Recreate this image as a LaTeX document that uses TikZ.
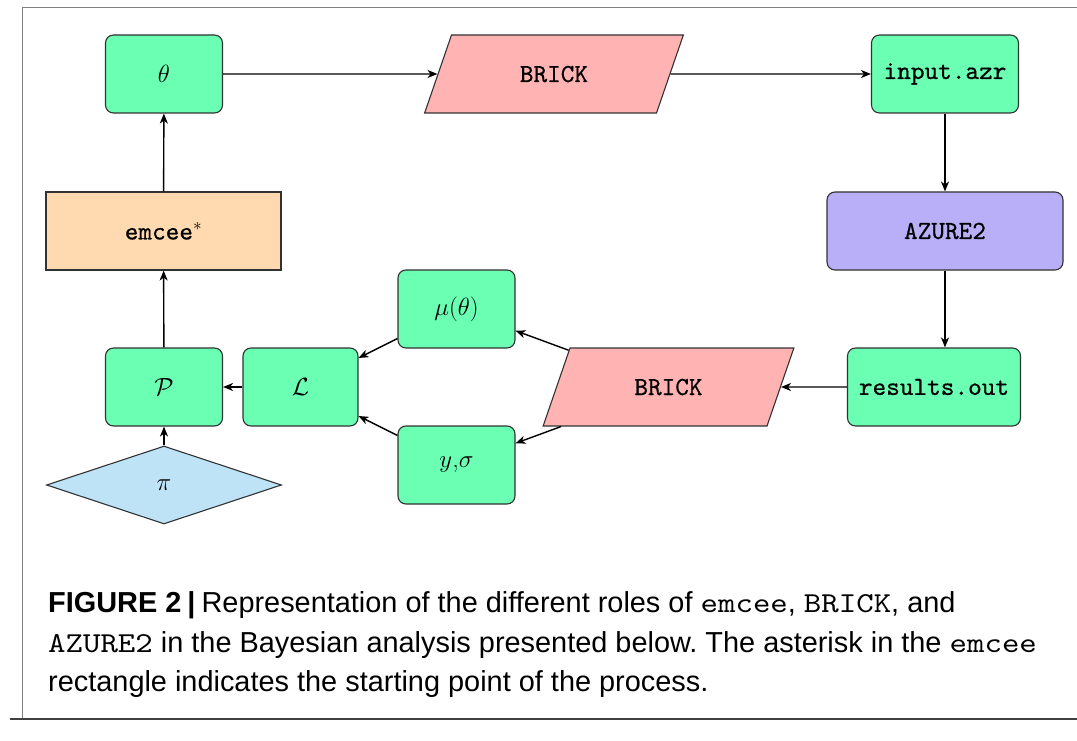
\documentclass[tikz,border=0pt]{standalone}
\usepackage{fontspec}
\usetikzlibrary{shapes.geometric,arrows.meta}
\newfontfamily\capfont{Liberation Sans}
\newfontfamily\capmono[Extension=.otf, FakeStretch=1.15]{lmmono10-regular}
\newfontfamily\ttb[Extension=.otf, FakeBold=0.6]{lmmono10-regular}
\definecolor{mint}{RGB}{106,255,178}
\definecolor{peach}{RGB}{255,218,176}
\definecolor{pinkb}{RGB}{255,179,179}
\definecolor{lilac}{RGB}{185,174,248}
\definecolor{skyb}{RGB}{190,227,247}
\definecolor{edge}{RGB}{50,50,50}
\frenchspacing
\tikzset{
  base/.style={draw=edge, line width=1.1pt, inner sep=0pt, font=\fontsize{26}{31}\selectfont, text=black},
  gbox/.style={base, fill=mint, rounded corners=8pt, minimum height=78pt},
  para/.style={base, fill=pinkb, trapezium, trapezium left angle=71, trapezium right angle=109,
    text height=16pt, text depth=0pt, inner ysep=31pt, inner xsep=0pt, align=center},
  conn/.style={line width=1.4pt, -{Stealth[length=10pt,width=8pt,inset=3pt]}},
  captxt/.style={anchor=base west, inner sep=0pt, font=\capfont\fontsize{28.9}{34}\selectfont},
}
\begin{document}
\begin{tikzpicture}[x=1pt,y=-1pt]
\useasboundingbox (0,0) rectangle (1077,741);
% frame
\draw[gray, line width=1pt] (1077,8) -- (22,8) -- (22,719);
\draw[black!75, line width=2pt] (10,719) -- (1077,719);
% nodes
\node[gbox, minimum width=117pt] (theta) at (164,74) {$\theta$};
\node[base, fill=peach, minimum width=235pt, minimum height=78pt] (emcee) at (163.5,231) {\ttb emcee$^{*}$};
\node[para, text width=205pt] (brickA) at (554,74) {\ttb BRICK};
\node[gbox, minimum width=147pt] (input) at (945,74) {\ttb input.azr};
\node[gbox, fill=lilac, minimum width=236pt] (azure) at (945,231) {\ttb AZURE2};
\node[gbox, minimum width=173pt] (results) at (934,387) {\ttb results.out};
\node[para, text width=197pt] (brickB) at (668.5,387) {\ttb BRICK};
\node[gbox, minimum width=117pt] (mu) at (456.5,309) {$\mu(\theta)$};
\node[gbox, minimum width=117pt] (ys) at (456.5,465) {$y$,$\sigma$};
\node[gbox, minimum width=115pt] (L) at (300.5,387) {$\mathcal{L}$};
\node[gbox, minimum width=117pt] (P) at (164,387) {$\mathcal{P}$};
\node[base, fill=skyb, diamond, aspect=3, minimum width=235pt, minimum height=78pt] (pi) at (164,485) {$\pi$};
% connectors
\draw[conn] (theta) -- (brickA);
\draw[conn] (brickA) -- (input);
\draw[conn] (input) -- (azure);
\draw[conn] (azure.south) -- (azure.south |- results.north);
\draw[conn] (results) -- (brickB);
\draw[conn] (brickB) -- (mu);
\draw[conn] (brickB) -- (ys);
\draw[conn] (mu) -- (L);
\draw[conn] (ys) -- (L);
\draw[conn] (L) -- (P);
\draw[conn] (pi) -- (P);
\draw[conn] (P) -- (emcee);
\draw[conn] (emcee) -- (theta);
% caption
\node[captxt] (cap1) at (48,612) {\textbf{FIGURE 2\hspace{6pt}|}\hspace{6pt}Representation of the different roles of {\capmono emcee}, {\capmono BRICK}, and};
\node[captxt] (cap2) at (48,652) {{\capmono AZURE2} in the Bayesian analysis presented below. The asterisk in the {\capmono emcee}};
\node[captxt] (cap3) at (48,691) {rectangle indicates the starting point of the process.};
\end{tikzpicture}
\end{document}
